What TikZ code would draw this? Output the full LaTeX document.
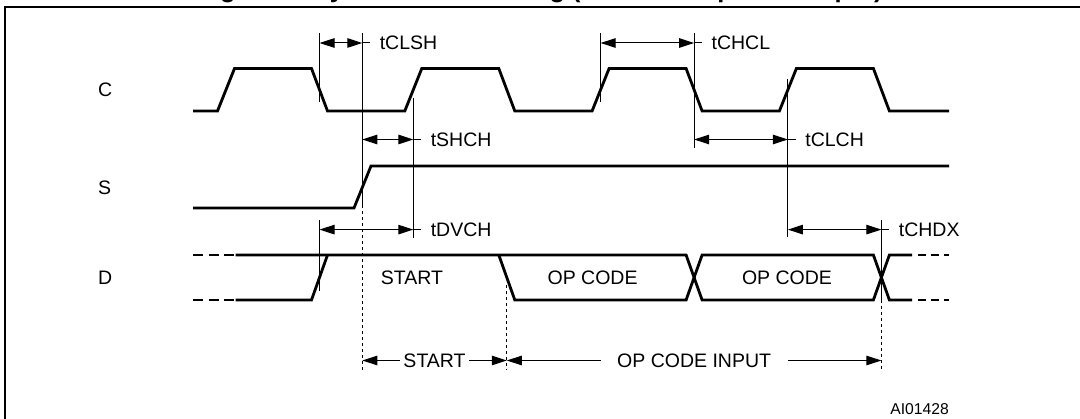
\documentclass[tikz,border=0pt]{standalone}
\usepackage{fontspec}
\setmainfont{Liberation Sans}
\usetikzlibrary{arrows.meta}
\tikzset{
	signal/.style={line width=2.8pt,line join=miter},
	guide/.style={line width=1pt},
	dotguide/.style={line width=1pt,dash pattern=on 3pt off 3pt},
	timeline/.style={line width=1pt,arrows={Triangle[length=15pt,width=9.5pt]-Triangle[length=15pt,width=9.5pt]}},
	lbl/.style={inner sep=0pt,font=\fontsize{19.5}{21}\selectfont},
	ttl/.style={inner sep=0pt,anchor=base,font=\bfseries\fontsize{25.4}{28}\selectfont}
}
\begin{document}
\begin{tikzpicture}[x=1pt,y=-1pt]
	\useasboundingbox (0,0) rectangle (1080,419);
	\clip (0,0) rectangle (1080,419);
	\node [ttl] (title) at (540,-2.5) {Figure 8. Synchronous Timing (Start and Op-Code Input)};
	\draw [line width=2.2pt] (1085,6.9) -- (5.2,6.9) -- (5.2,425);

	\node [lbl,anchor=west] (labC) at (98,90) {C};
	\node [lbl,anchor=west] (labS) at (98,188) {S};
	\node [lbl,anchor=west] (labD) at (98,278) {D};

	\draw [signal] (193,111) foreach \k in {0,...,3} {-- ({217.5+187.3*\k},111) -- ++(17,-42.5) -- ++(77,0) -- ++(16,42.5)} -- (949,111);
	\draw [signal] (193,208) -- (354,208) -- (371,166) -- (949,166);

	\draw [signal,dash pattern=on 10.3pt off 5.2pt] (193,255) -- (234.2,255);
	\draw [signal,dash pattern=on 10.3pt off 5.2pt] (193,300) -- (234.2,300);
	\draw [signal] (235.5,300) -- (311.5,300) -- (327.5,255);
	\draw [signal] (235.5,255) -- (686.1,255) -- (702.1,300) -- (873.4,300) -- (889.4,255) -- (912,255);
	\draw [signal] (498.8,255) -- (514.8,300) -- (686.1,300) -- (702.1,255) -- (873.4,255) -- (889.4,300) -- (912,300);
	\draw [signal,dash pattern=on 8pt off 5pt] (918,255) -- (949,255);
	\draw [signal,dash pattern=on 8pt off 5pt] (918,300) -- (949,300);
	\node [lbl] (dstart) at (412,278) {START};
	\node [lbl] (dopa) at (592.6,278) {OP CODE};
	\node [lbl] (dopb) at (787,278) {OP CODE};

	\draw [guide] (319.5,33) -- (319.5,102);
	\draw [guide] (362.3,33) -- (362.3,205);
	\draw [dotguide] (362.3,205) -- (362.3,370);
	\draw [guide] (413.3,98) -- (413.3,238);
	\draw [guide] (600.6,33) -- (600.6,102);
	\draw [guide] (694.1,33) -- (694.1,148);
	\draw [guide] (787.9,79) -- (787.9,237);
	\draw [guide] (319.5,220) -- (319.5,291);
	\draw [guide] (881.4,220) -- (881.4,300);
	\draw [dotguide] (881.4,300) -- (881.4,370);
	\draw [dotguide] (506.8,285) -- (506.8,370);

	\draw [timeline] (319.5,43) -- (362.3,43);
	\draw [guide] (362.3,43) -- ++(8,0) node [lbl,anchor=west,xshift=9pt] (tclsh) {tCLSH};
	\draw [timeline] (362.3,139.5) -- (413.3,139.5);
	\draw [guide] (413.3,139.5) -- ++(8,0) node [lbl,anchor=west,xshift=9pt] (tshch) {tSHCH};
	\draw [timeline] (319.5,229.6) -- (413.3,229.6);
	\draw [guide] (413.3,229.6) -- ++(8,0) node [lbl,anchor=west,xshift=9pt] (tdvch) {tDVCH};
	\draw [timeline] (600.6,43) -- (694.1,43);
	\draw [guide] (694.1,43) -- ++(8,0) node [lbl,anchor=west,xshift=9pt] (tchcl) {tCHCL};
	\draw [timeline] (694.1,139.5) -- (787.9,139.5);
	\draw [guide] (787.9,139.5) -- ++(8,0) node [lbl,anchor=west,xshift=9pt] (tclch) {tCLCH};
	\draw [timeline] (787.9,229.6) -- (881.4,229.6);
	\draw [guide] (881.4,229.6) -- ++(8,0) node [lbl,anchor=west,xshift=9pt] (tchdx) {tCHDX};

	\draw [timeline] (362.3,360.5) -- node [lbl,fill=white,inner xsep=3.5pt] (bstart) {START} (506.8,360.5);
	\draw [timeline] (506.8,360.5) -- node [lbl,fill=white,inner xsep=16.5pt] (bop) {OP CODE INPUT} (881.4,360.5);

	\node [lbl,font=\fontsize{15.7}{17}\selectfont,anchor=east] (code) at (949,409) {AI01428};
\end{tikzpicture}
\end{document}
